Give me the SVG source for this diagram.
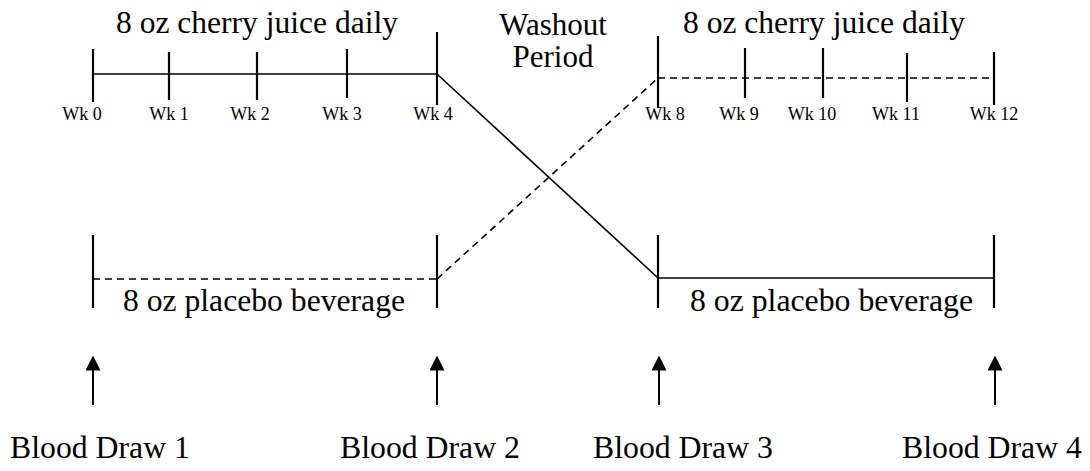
<svg xmlns="http://www.w3.org/2000/svg" width="1090" height="471" viewBox="0 0 1090 471">
<defs>
<style>
.t{font-family:"Liberation Serif","Times New Roman",serif;fill:#000}
.big{font-size:31px}
.wk{font-size:18px}
.ln{stroke:#000;stroke-width:1.6;fill:none}
.tick{stroke:#000;stroke-width:2.2;fill:none}
.dash{stroke:#000;stroke-width:1.6;fill:none;stroke-dasharray:7 5}
.arr{stroke:#000;stroke-width:2;fill:none}
</style>
<marker id="ah" viewBox="0 0 10 10" refX="9" refY="5" markerWidth="15" markerHeight="15" markerUnits="userSpaceOnUse" orient="auto">
<path d="M0,0 L10,5 L0,10 Z" fill="#000"/>
</marker>
</defs>
<rect width="1090" height="471" fill="#fff"/>
<g id="cherry1">
<line class="ln" x1="93" y1="74" x2="437" y2="74"/>
<line class="tick" x1="93" y1="49" x2="93" y2="102"/>
<line class="tick" x1="169" y1="52" x2="169" y2="100"/>
<line class="tick" x1="257" y1="52" x2="257" y2="100"/>
<line class="tick" x1="347" y1="49" x2="347" y2="98"/>
<line class="tick" x1="437" y1="32" x2="437" y2="105"/>
<text class="t big" x="116" y="33" textLength="282" lengthAdjust="spacingAndGlyphs">8 oz cherry juice daily</text>
<text class="t wk" x="82" y="120" text-anchor="middle">Wk 0</text>
<text class="t wk" x="169" y="120" text-anchor="middle">Wk 1</text>
<text class="t wk" x="250" y="120" text-anchor="middle">Wk 2</text>
<text class="t wk" x="342" y="120" text-anchor="middle">Wk 3</text>
<text class="t wk" x="433" y="120" text-anchor="middle">Wk 4</text>
</g>
<g id="washout">
<text class="t big" x="553" y="35" text-anchor="middle" font-size="29">Washout</text>
<text class="t big" x="553" y="67" text-anchor="middle" font-size="29">Period</text>
</g>
<g id="cherry2">
<line class="dash" x1="658" y1="78" x2="994" y2="78"/>
<line class="tick" x1="658" y1="36" x2="658" y2="108"/>
<line class="tick" x1="745" y1="48" x2="745" y2="98"/>
<line class="tick" x1="823" y1="48" x2="823" y2="98"/>
<line class="tick" x1="907" y1="53" x2="907" y2="102"/>
<line class="tick" x1="994" y1="52" x2="994" y2="105"/>
<text class="t big" x="683" y="33" textLength="282" lengthAdjust="spacingAndGlyphs">8 oz cherry juice daily</text>
<text class="t wk" x="665" y="120" text-anchor="middle">Wk 8</text>
<text class="t wk" x="739" y="120" text-anchor="middle">Wk 9</text>
<text class="t wk" x="812" y="120" text-anchor="middle">Wk 10</text>
<text class="t wk" x="896" y="120" text-anchor="middle">Wk 11</text>
<text class="t wk" x="994" y="120" text-anchor="middle">Wk 12</text>
</g>
<g id="placebo1">
<line class="dash" x1="93" y1="279" x2="437" y2="279"/>
<line class="tick" x1="93" y1="235" x2="93" y2="308"/>
<line class="tick" x1="437" y1="235" x2="437" y2="308"/>
<text class="t big" x="123" y="311" textLength="282" lengthAdjust="spacingAndGlyphs">8 oz placebo beverage</text>
</g>
<g id="placebo2">
<line class="ln" x1="658" y1="278" x2="994" y2="278"/>
<line class="tick" x1="658" y1="235" x2="658" y2="308"/>
<line class="tick" x1="994" y1="235" x2="994" y2="308"/>
<text class="t big" x="690" y="311" textLength="283" lengthAdjust="spacingAndGlyphs">8 oz placebo beverage</text>
</g>
<g id="connectors">
<line class="ln" x1="437" y1="74" x2="658" y2="278"/>
<line class="dash" x1="437" y1="279" x2="658" y2="78"/>
<line class="arr" x1="93" y1="405" x2="93" y2="357" marker-end="url(#ah)"/>
<line class="arr" x1="437" y1="405" x2="437" y2="357" marker-end="url(#ah)"/>
<line class="arr" x1="659" y1="405" x2="659" y2="357" marker-end="url(#ah)"/>
<line class="arr" x1="995" y1="405" x2="995" y2="357" marker-end="url(#ah)"/>
</g>
<g id="draw1"><text class="t big" x="10" y="458" textLength="180" lengthAdjust="spacingAndGlyphs">Blood Draw 1</text></g>
<g id="draw2"><text class="t big" x="340" y="458" textLength="180" lengthAdjust="spacingAndGlyphs">Blood Draw 2</text></g>
<g id="draw3"><text class="t big" x="593" y="458" textLength="180" lengthAdjust="spacingAndGlyphs">Blood Draw 3</text></g>
<g id="draw4"><text class="t big" x="902" y="458" textLength="180" lengthAdjust="spacingAndGlyphs">Blood Draw 4</text></g>
</svg>
